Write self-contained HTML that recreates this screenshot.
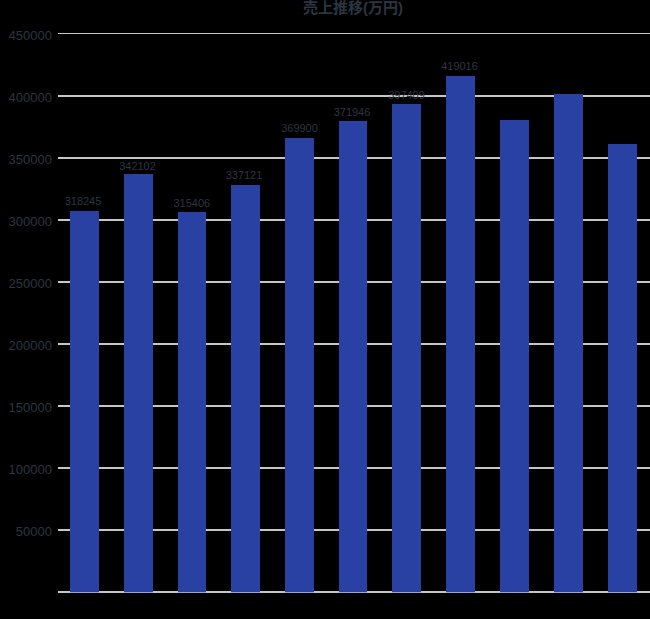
<!DOCTYPE html>
<html><head><meta charset="utf-8"><title>chart</title>
<style>
html,body{margin:0;padding:0;background:#000;}
body{width:650px;height:619px;overflow:hidden;font-family:"Liberation Sans",sans-serif;}
svg{display:block;}
.t text{fill:#2b3642;stroke:none;font-family:"Liberation Sans","Noto Sans CJK JP",sans-serif;}
</style></head><body>
<svg width="650" height="619" viewBox="0 0 650 619">
<rect width="650" height="619" fill="#000"/>
<g shape-rendering="crispEdges">
<rect x="58" y="33" width="592" height="1" fill="#c6c6c6"/>
<rect x="58" y="95" width="592" height="2" fill="#c6c6c6"/>
<rect x="58" y="157" width="592" height="2" fill="#c6c6c6"/>
<rect x="58" y="219" width="592" height="2" fill="#c6c6c6"/>
<rect x="58" y="281" width="592" height="2" fill="#c6c6c6"/>
<rect x="58" y="343" width="592" height="2" fill="#c6c6c6"/>
<rect x="58" y="405" width="592" height="2" fill="#c6c6c6"/>
<rect x="58" y="467" width="592" height="2" fill="#c6c6c6"/>
<rect x="58" y="529" width="592" height="2" fill="#c6c6c6"/>
<rect x="58" y="591" width="592" height="2" fill="#c6c6c6"/>
</g>
<g fill="#2941a3" shape-rendering="crispEdges">
<rect x="70" y="211" width="29" height="381"/>
<rect x="70" y="592" width="29" height="1" fill="#98a2d4"/>
<rect x="124" y="174" width="29" height="418"/>
<rect x="124" y="592" width="29" height="1" fill="#98a2d4"/>
<rect x="178" y="212" width="28" height="380"/>
<rect x="178" y="592" width="28" height="1" fill="#98a2d4"/>
<rect x="231" y="185" width="29" height="407"/>
<rect x="231" y="592" width="29" height="1" fill="#98a2d4"/>
<rect x="285" y="138" width="29" height="454"/>
<rect x="285" y="592" width="29" height="1" fill="#98a2d4"/>
<rect x="339" y="121" width="28" height="471"/>
<rect x="339" y="592" width="28" height="1" fill="#98a2d4"/>
<rect x="392" y="104" width="29" height="488"/>
<rect x="392" y="592" width="29" height="1" fill="#98a2d4"/>
<rect x="446" y="76" width="29" height="516"/>
<rect x="446" y="592" width="29" height="1" fill="#98a2d4"/>
<rect x="500" y="120" width="29" height="472"/>
<rect x="500" y="592" width="29" height="1" fill="#98a2d4"/>
<rect x="554" y="94" width="29" height="498"/>
<rect x="554" y="592" width="29" height="1" fill="#98a2d4"/>
<rect x="608" y="144" width="29" height="448"/>
<rect x="608" y="592" width="29" height="1" fill="#98a2d4"/>
</g>
<g class="t" font-size="13" text-anchor="end">
<text x="52" y="39.5">450000</text>
<text x="52" y="101.5">400000</text>
<text x="52" y="163.5">350000</text>
<text x="52" y="225.5">300000</text>
<text x="52" y="287.5">250000</text>
<text x="52" y="349.5">200000</text>
<text x="52" y="411.5">150000</text>
<text x="52" y="473.5">100000</text>
<text x="52" y="535.5">50000</text>
</g>
<g class="t" font-size="11" text-anchor="middle">
<text x="83" y="205.4">318245</text>
<text x="137.5" y="169.6">342102</text>
<text x="191.8" y="206.7">315406</text>
<text x="244" y="178.7">337121</text>
<text x="299.5" y="132.3">369900</text>
<text x="352" y="115.7">371946</text>
<text x="406.5" y="98.7">397409</text>
<text x="459.5" y="69.6">419016</text>
</g>
<g class="t" font-size="15" font-weight="bold" text-anchor="middle">
<text x="353" y="13">売上推移(万円)</text>
</g>
</svg>
</body></html>
